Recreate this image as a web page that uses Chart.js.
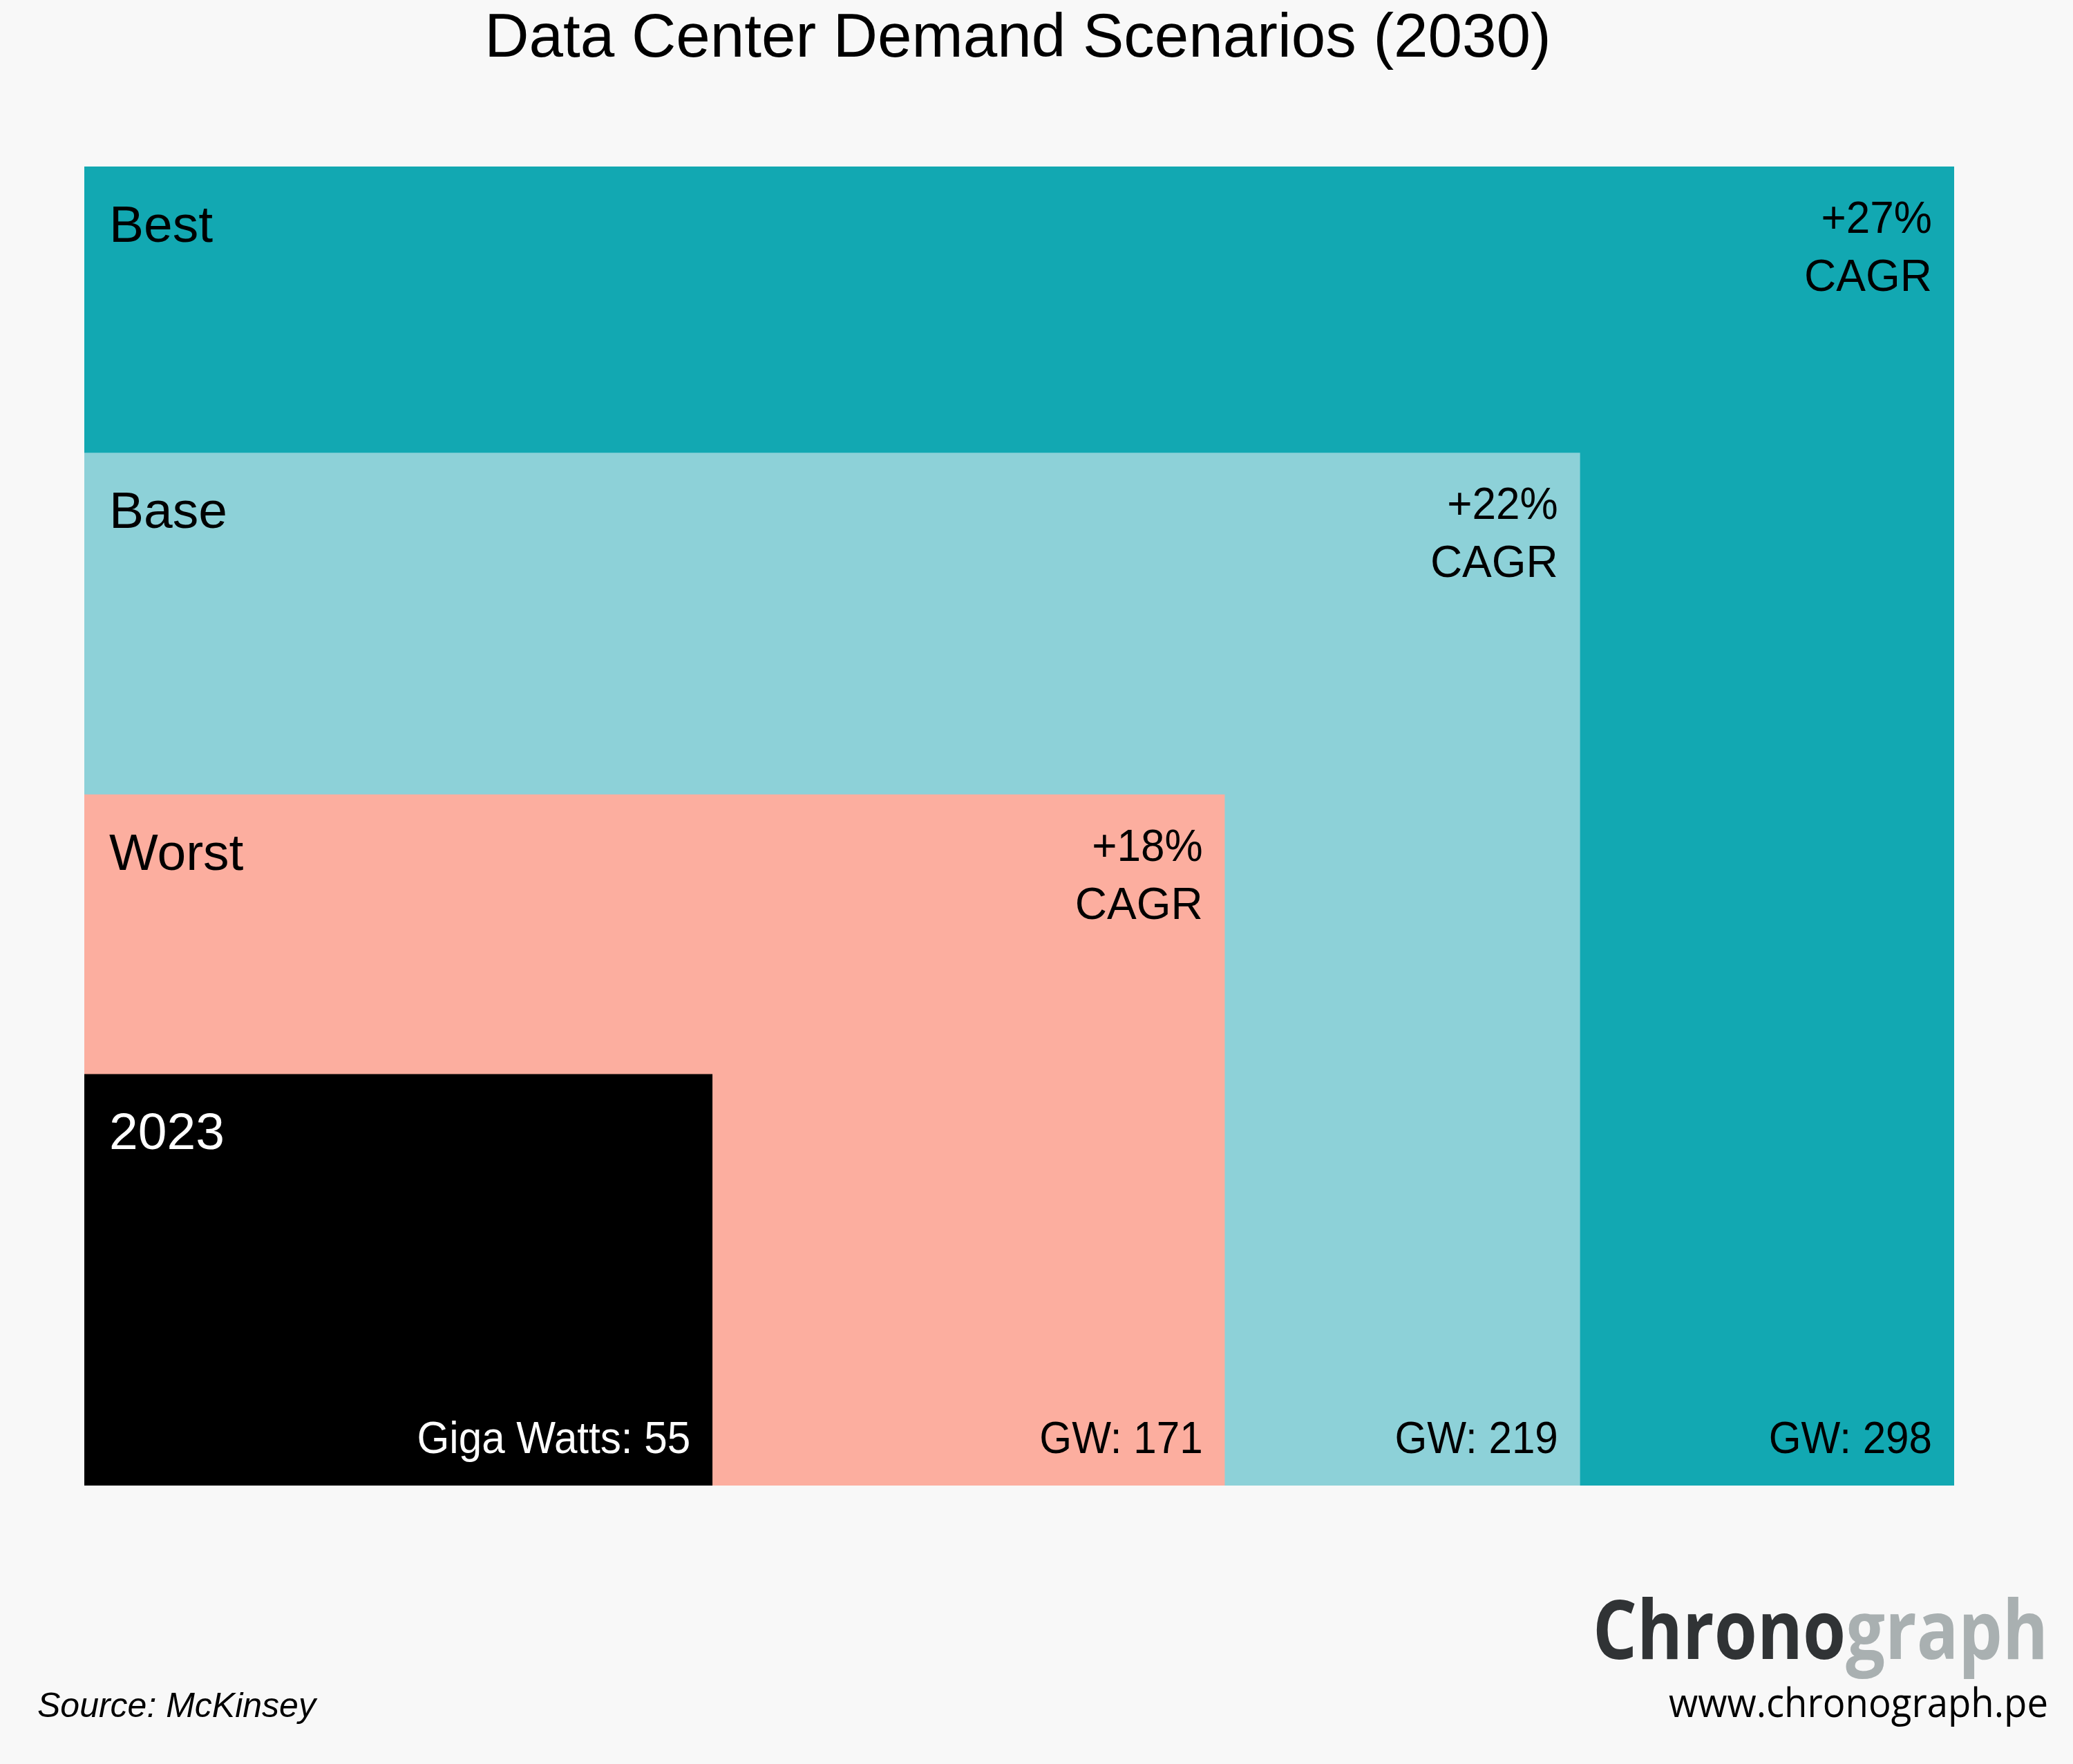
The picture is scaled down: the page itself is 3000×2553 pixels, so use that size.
<!DOCTYPE html>
<html>
<head>
<meta charset="utf-8">
<title>Data Center Demand Scenarios (2030)</title>
<script src="https://cdn.jsdelivr.net/npm/chart.js@4.4.1/dist/chart.umd.min.js"></script>
<style>
  html, body { margin: 0; padding: 0; background: #f8f8f8; }
  canvas { display: block; }
</style>
</head>
<body>
<canvas id="demandChart" width="3000" height="2553"></canvas>
<script>
// === DATA ===
// front (2023) to back (Best)
const scenarios = ['2023', 'Worst', 'Base', 'Best'];
const gigaWatts = [55, 171, 219, 298];
const cagrLabels = ['', '+18%', '+22%', '+27%'];
// box size relative to the Best box
const boxWidths = [0.336, 0.610, 0.800, 1.0];
const boxHeights = [0.312, 0.524, 0.783, 1.0];

const boxColors = ['#000000', '#fcae9f', '#8dd1d8', '#12a8b2'];
const textColors = ['#ffffff', '#000000', '#000000', '#000000'];

const FONT = '"Liberation Sans", Arial, sans-serif';

// slightly condensed text, like the reference typeface
function narrowText(ctx, text, x, y, squeeze) {
    ctx.fillText(text, x, y, ctx.measureText(text).width * squeeze);
}

// labels inside each box
const boxLabels = {
    id: 'boxLabels',
    afterDatasetsDraw(chart) {
        const ctx = chart.ctx;
        const xs = chart.scales.x;
        const ys = chart.scales.y;
        ctx.save();
        ctx.textBaseline = 'alphabetic';
        scenarios.forEach(function(name, i) {
            const left = xs.getPixelForValue(0);
            const right = xs.getPixelForValue(boxWidths[i]);
            const top = ys.getPixelForValue(boxHeights[i]);
            const bottom = ys.getPixelForValue(0);
            ctx.fillStyle = textColors[i];

            ctx.font = '75px ' + FONT;
            ctx.textAlign = 'left';
            ctx.fillText(name, left + 36, top + 109);

            ctx.font = '64px ' + FONT;
            ctx.textAlign = 'right';
            if (cagrLabels[i]) {
                narrowText(ctx, cagrLabels[i], right - 32, top + 96, 0.97);
                ctx.fillText('CAGR', right - 32, top + 180);
            }
            const prefix = i === 0 ? 'Giga Watts: ' : 'GW: ';
            narrowText(ctx, prefix + gigaWatts[i], right - 32, bottom - 47, 0.94);
        });
        ctx.restore();
    }
};

// title, source and logo
const pageText = {
    id: 'pageText',
    afterDraw(chart) {
        const ctx = chart.ctx;
        ctx.save();
        ctx.textBaseline = 'alphabetic';
        ctx.fillStyle = '#000000';

        ctx.font = '89px ' + FONT;
        ctx.textAlign = 'center';
        ctx.fillText('Data Center Demand Scenarios (2030)', 1473, 82);

        ctx.font = 'italic 50px ' + FONT;
        ctx.textAlign = 'left';
        ctx.fillText('Source: McKinsey', 54, 2485);

        // logo: "Chrono" dark, "graph" light, squeezed to the reference width
        ctx.font = 'bold 118px "Open Sans", sans-serif';
        const w1 = ctx.measureText('Chrono').width;
        const w2 = ctx.measureText('graph').width;
        const s = Math.min(1, 659 / (w1 + w2));
        ctx.save();
        ctx.translate(2964 - (w1 + w2) * s, 2401);
        ctx.scale(s, 1);
        ctx.textAlign = 'left';
        ctx.fillStyle = '#303335';
        ctx.fillText('Chrono', 0, 0);
        ctx.fillStyle = '#a9b0b1';
        ctx.fillText('graph', w1, 0);
        ctx.restore();

        ctx.font = '58px "Open Sans", sans-serif';
        ctx.textAlign = 'right';
        ctx.fillStyle = '#000000';
        ctx.fillText('www.chronograph.pe', 2964, 2485, 549);
        ctx.restore();
    }
};

document.addEventListener('DOMContentLoaded', function() {
    const canvas = document.getElementById('demandChart');

    // each box is a filled line from (0,h) to (w,h) down to the origin
    const datasets = scenarios.map(function(name, i) {
        return {
            label: name,
            data: [{ x: 0, y: boxHeights[i] }, { x: boxWidths[i], y: boxHeights[i] }],
            borderWidth: 0,
            borderColor: boxColors[i],
            backgroundColor: boxColors[i],
            pointRadius: 0,
            fill: 'origin',
            order: i
        };
    });

    new Chart(canvas, {
        type: 'line',
        data: { datasets: datasets },
        options: {
            responsive: false,
            animation: false,
            events: [],
            layout: {
                padding: { left: 122, right: 172, top: 241, bottom: 403 }
            },
            scales: {
                x: { type: 'linear', min: 0, max: 1, display: false },
                y: { type: 'linear', min: 0, max: 1, display: false }
            },
            plugins: {
                legend: { display: false },
                tooltip: { enabled: false }
            }
        },
        plugins: [boxLabels, pageText]
    });
});
</script>
</body>
</html>
